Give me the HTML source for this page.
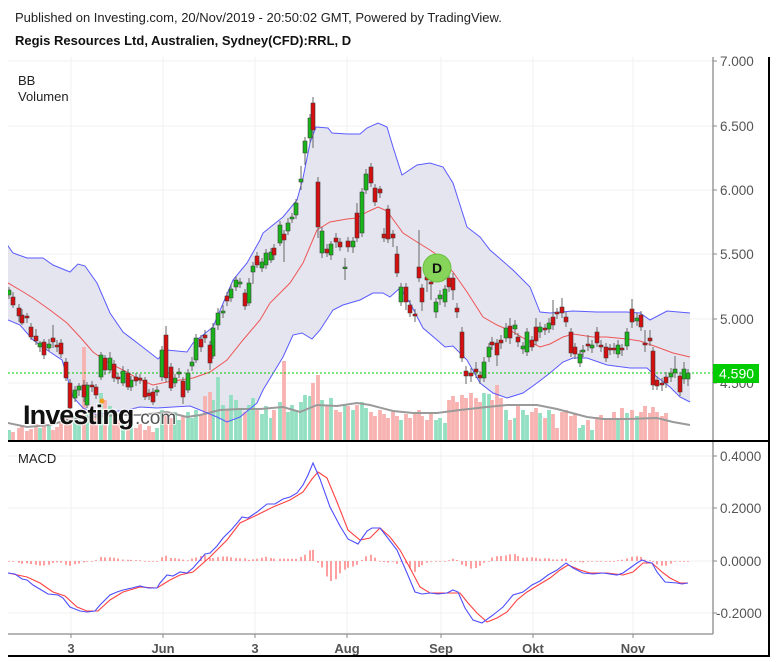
<!DOCTYPE html>
<html><head><meta charset="utf-8">
<style>
html,body{margin:0;padding:0;background:#fff;}
svg{display:block;}
text{font-family:"Liberation Sans",Arial,sans-serif;}
</style></head><body>
<svg width="777" height="662" viewBox="0 0 777 662" xmlns="http://www.w3.org/2000/svg">
<defs>
<clipPath id="cm"><rect x="8" y="57" width="705" height="383"/></clipPath>
<clipPath id="cd"><rect x="8" y="442" width="705" height="192"/></clipPath>
</defs>
<rect width="777" height="662" fill="#fff"/>
<g stroke="#f0f0f0" stroke-width="1">
<line x1="8" y1="61" x2="713" y2="61"/><line x1="8" y1="126" x2="713" y2="126"/>
<line x1="8" y1="190" x2="713" y2="190"/><line x1="8" y1="254" x2="713" y2="254"/>
<line x1="8" y1="319" x2="713" y2="319"/><line x1="8" y1="383" x2="713" y2="383"/>
<line x1="71" y1="57" x2="71" y2="440"/><line x1="163" y1="57" x2="163" y2="440"/>
<line x1="255" y1="57" x2="255" y2="440"/><line x1="347" y1="57" x2="347" y2="440"/>
<line x1="441" y1="57" x2="441" y2="440"/><line x1="533" y1="57" x2="533" y2="440"/>
<line x1="633" y1="57" x2="633" y2="440"/>
<line x1="8" y1="456" x2="713" y2="456"/><line x1="8" y1="508" x2="713" y2="508"/>
<line x1="8" y1="561" x2="713" y2="561"/><line x1="8" y1="613" x2="713" y2="613"/>
<line x1="71" y1="443" x2="71" y2="634"/><line x1="163" y1="443" x2="163" y2="634"/>
<line x1="255" y1="443" x2="255" y2="634"/><line x1="347" y1="443" x2="347" y2="634"/>
<line x1="441" y1="443" x2="441" y2="634"/><line x1="533" y1="443" x2="533" y2="634"/>
<line x1="633" y1="443" x2="633" y2="634"/>
</g>

<g clip-path="url(#cm)">
<!-- BB fill -->
<polygon fill="#e5e5f0" points="6,244 8,246 13,253 27,258 43,258 53,265 70,272 78,264 85,266 97,283 110,313 123,332 140,345 158,359 167,350 187,352 193,343 213,327 233,280 247,263 260,240 263,233 283,217 297,200 303,178 310,143 316,127 328,128 332,133 347,134 360,134 367,128 378,123 387,127 393,147 402,175 417,165 430,163 443,167 453,183 467,227 480,237 490,250 513,270 530,287 540,312 550,313 573,311 597,312 627,312 640,313 650,320 667,311 690,313 690,402 680,397 670,387 657,377 647,368 630,368 607,365 587,358 573,358 563,362 550,373 537,383 523,393 507,398 493,393 480,383 467,360 453,346 445,347 437,340 423,328 410,303 400,288 390,297 383,293 373,293 360,300 343,305 333,310 320,330 312,339 302,333 293,335 283,357 263,390 257,403 240,417 227,422 217,417 200,410 190,406 173,407 157,408 140,407 127,410 110,412 97,415 83,408 73,397 68,380 62,360 50,352 33,340 20,325 8,320 6,319"/>
<!-- volume green -->
<path fill="#93dfc2" d="M7.1 430h3.8V441h-3.8zM38.1 428h3.8V441h-3.8zM47.1 426h3.8V441h-3.8zM73.1 416h3.8V441h-3.8zM77.1 420h3.8V441h-3.8zM85.1 412h3.8V441h-3.8zM99.1 393h3.8V441h-3.8zM108.1 406h3.8V441h-3.8zM121.1 421h3.8V441h-3.8zM129.1 420h3.8V441h-3.8zM155.1 428h3.8V441h-3.8zM160.1 410h3.8V441h-3.8zM173.1 412h3.8V441h-3.8zM177.1 420h3.8V441h-3.8zM186.1 412h3.8V441h-3.8zM190.1 418h3.8V441h-3.8zM194.1 410h3.8V441h-3.8zM211.1 400h3.8V441h-3.8zM216.1 377h3.8V441h-3.8zM221.1 405h3.8V441h-3.8zM229.1 395h3.8V441h-3.8zM234.1 400h3.8V441h-3.8zM238.1 408h3.8V441h-3.8zM247.1 405h3.8V441h-3.8zM251.1 398h3.8V441h-3.8zM260.1 414h3.8V441h-3.8zM264.1 406h3.8V441h-3.8zM269.1 418h3.8V441h-3.8zM278.1 402h3.8V441h-3.8zM286.1 412h3.8V441h-3.8zM290.1 405h3.8V441h-3.8zM294.1 410h3.8V441h-3.8zM299.1 402h3.8V441h-3.8zM303.1 395h3.8V441h-3.8zM308.1 396h3.8V441h-3.8zM320.1 400h3.8V441h-3.8zM329.1 398h3.8V441h-3.8zM343.1 404h3.8V441h-3.8zM351.1 410h3.8V441h-3.8zM360.1 402h3.8V441h-3.8zM364.1 408h3.8V441h-3.8zM399.1 420h3.8V441h-3.8zM434.1 420h3.8V441h-3.8zM438.1 418h3.8V441h-3.8zM443.1 423h3.8V441h-3.8zM482.1 393h3.8V441h-3.8zM487.1 394h3.8V441h-3.8zM504.1 410h3.8V441h-3.8zM513.1 418h3.8V441h-3.8zM521.1 410h3.8V441h-3.8zM525.1 415h3.8V441h-3.8zM538.1 413h3.8V441h-3.8zM547.1 410h3.8V441h-3.8zM578.1 428h3.8V441h-3.8zM581.1 425h3.8V441h-3.8zM590.1 430h3.8V441h-3.8zM616.1 420h3.8V441h-3.8zM625.1 413h3.8V441h-3.8zM635.1 416h3.8V441h-3.8z"/>
<!-- volume red -->
<path fill="#f8b3b0" d="M11.1 432h3.8V441h-3.8zM17.1 428h3.8V441h-3.8zM20.1 425h3.8V441h-3.8zM25.1 431h3.8V441h-3.8zM29.1 429h3.8V441h-3.8zM34.1 424h3.8V441h-3.8zM42.1 422h3.8V441h-3.8zM51.1 430h3.8V441h-3.8zM55.1 427h3.8V441h-3.8zM59.1 423h3.8V441h-3.8zM64.1 418h3.8V441h-3.8zM68.1 412h3.8V441h-3.8zM82.1 347h3.8V441h-3.8zM90.1 405h3.8V441h-3.8zM94.1 410h3.8V441h-3.8zM103.1 400h3.8V441h-3.8zM112.1 412h3.8V441h-3.8zM116.1 418h3.8V441h-3.8zM126.1 425h3.8V441h-3.8zM134.1 428h3.8V441h-3.8zM138.1 424h3.8V441h-3.8zM143.1 430h3.8V441h-3.8zM147.1 426h3.8V441h-3.8zM151.1 432h3.8V441h-3.8zM164.1 414h3.8V441h-3.8zM169.1 418h3.8V441h-3.8zM181.1 416h3.8V441h-3.8zM199.1 414h3.8V441h-3.8zM203.1 396h3.8V441h-3.8zM208.1 392h3.8V441h-3.8zM225.1 410h3.8V441h-3.8zM243.1 412h3.8V441h-3.8zM255.1 410h3.8V441h-3.8zM272.1 410h3.8V441h-3.8zM282.1 361h3.8V441h-3.8zM311.1 383h3.8V441h-3.8zM316.1 375h3.8V441h-3.8zM325.1 405h3.8V441h-3.8zM334.1 410h3.8V441h-3.8zM338.1 412h3.8V441h-3.8zM346.1 406h3.8V441h-3.8zM355.1 405h3.8V441h-3.8zM369.1 412h3.8V441h-3.8zM373.1 416h3.8V441h-3.8zM378.1 410h3.8V441h-3.8zM382.1 414h3.8V441h-3.8zM386.1 418h3.8V441h-3.8zM391.1 412h3.8V441h-3.8zM395.1 416h3.8V441h-3.8zM404.1 414h3.8V441h-3.8zM408.1 418h3.8V441h-3.8zM413.1 412h3.8V441h-3.8zM417.1 410h3.8V441h-3.8zM420.1 416h3.8V441h-3.8zM425.1 420h3.8V441h-3.8zM429.1 414h3.8V441h-3.8zM447.1 400h3.8V441h-3.8zM451.1 396h3.8V441h-3.8zM455.1 402h3.8V441h-3.8zM460.1 395h3.8V441h-3.8zM464.1 398h3.8V441h-3.8zM469.1 393h3.8V441h-3.8zM474.1 398h3.8V441h-3.8zM478.1 402h3.8V441h-3.8zM490.1 400h3.8V441h-3.8zM495.1 385h3.8V441h-3.8zM499.1 398h3.8V441h-3.8zM508.1 420h3.8V441h-3.8zM516.1 405h3.8V441h-3.8zM530.1 412h3.8V441h-3.8zM534.1 408h3.8V441h-3.8zM543.1 418h3.8V441h-3.8zM551.1 414h3.8V441h-3.8zM555.1 428h3.8V441h-3.8zM560.1 412h3.8V441h-3.8zM564.1 410h3.8V441h-3.8zM569.1 416h3.8V441h-3.8zM573.1 413h3.8V441h-3.8zM586.1 420h3.8V441h-3.8zM595.1 417h3.8V441h-3.8zM599.1 415h3.8V441h-3.8zM604.1 420h3.8V441h-3.8zM608.1 418h3.8V441h-3.8zM612.1 412h3.8V441h-3.8zM620.1 408h3.8V441h-3.8zM630.1 410h3.8V441h-3.8zM639.1 412h3.8V441h-3.8zM643.1 406h3.8V441h-3.8zM648.1 413h3.8V441h-3.8zM651.1 407h3.8V441h-3.8zM655.1 412h3.8V441h-3.8zM660.1 416h3.8V441h-3.8zM664.1 413h3.8V441h-3.8z"/>
<!-- volume MA -->
<polyline fill="none" stroke="#9a9a9a" stroke-width="2" points="6,423 8,423 27,427 50,425 67,420 93,417 117,415 140,415 167,412 187,417 200,415 220,410 240,409 260,409 283,407 300,412 317,405 337,406 357,403 370,405 393,411 413,413 437,413 460,410 487,407 507,405 537,405 557,409 587,417 603,419 627,419 657,418 673,422 690,425"/>
<!-- bands -->
<polyline fill="none" stroke="#5a5aff" stroke-width="1" points="6,244 8,246 13,253 27,258 43,258 53,265 70,272 78,264 85,266 97,283 110,313 123,332 140,345 158,359 167,350 187,352 193,343 213,327 233,280 247,263 260,240 263,233 283,217 297,200 303,178 310,143 316,127 328,128 332,133 347,134 360,134 367,128 378,123 387,127 393,147 402,175 417,165 430,163 443,167 453,183 467,227 480,237 490,250 513,270 530,287 540,312 550,313 573,311 597,312 627,312 640,313 650,320 667,311 690,313"/>
<polyline fill="none" stroke="#5a5aff" stroke-width="1" points="6,319 8,320 20,325 33,340 50,352 62,360 68,380 73,397 83,408 97,415 110,412 127,410 140,407 157,408 173,407 190,406 200,410 217,417 227,422 240,417 257,403 263,390 283,357 293,335 302,333 312,339 320,330 333,310 343,305 360,300 373,293 383,293 390,297 400,288 410,303 423,328 437,340 445,347 453,346 467,360 480,383 493,393 507,398 523,393 537,383 550,373 563,362 573,358 587,358 607,365 630,368 647,368 657,377 670,387 680,397 690,402"/>
<polyline fill="none" stroke="#ee5555" stroke-width="1" points="6,282 8,283 20,290 33,298 50,310 67,323 80,337 93,352 107,362 127,372 140,380 153,385 167,382 180,380 193,378 210,372 227,360 243,340 260,320 270,303 290,283 303,263 317,230 330,222 347,219 357,218 367,212 378,207 387,211 403,233 417,242 430,250 440,257 453,272 467,292 483,317 497,325 513,332 530,342 540,347 550,344 563,337 573,334 593,337 607,337 627,339 640,341 657,347 673,353 690,357"/>
<line x1="8" y1="373" x2="713" y2="373" stroke="#00c800" stroke-width="1" stroke-dasharray="2,2"/>
<!-- wicks -->
<path fill="none" stroke="#666" stroke-width="1" d="M9 287V299M13 292V308M19 304V322M22 309V325M27 313V323M31 323V340M36 329V345M40 341V352M44 339V359M49 339V351M53 325V348M57 340V352M61 339V358M66 358V381M70 379V412M75 386V402M79 383V396M84 380V402M87 382V408M92 381V392M96 384V399M101 352V380M105 355V375M110 352V373M114 360V382M118 373V384M123 366V386M128 369V390M131 376V391M136 373V386M140 374V384M145 377V400M149 389V400M153 388V405M157 386V396M162 346V381M166 326V382M171 363V391M175 374V387M179 368V378M183 377V404M188 369V393M192 357V371M196 334V363M201 335V352M205 330V343M210 341V370M213 323V359M218 308V330M223 305V318M227 292V306M231 284V302M236 276V291M240 278V288M245 289V310M249 278V306M253 262V284M257 252V268M262 258V272M266 249V269M271 248V263M274 244V260M280 221V246M284 230V262M288 218V235M292 213V223M296 199V219M301 166V190M305 137V165M310 114V143M313 97V148M318 177V238M322 227V258M327 244V257M331 241V260M336 233V248M340 238V251M345 258V280M348 237V252M353 237V253M357 203V242M362 188V237M366 169V194M371 163V187M375 184V206M380 186V198M384 228V242M388 205V243M393 230V247M397 246V277M401 283V306M406 283V310M410 300V317M415 309V322M419 230V282M422 284V311M427 262V292M431 276V300M436 298V318M440 290V305M445 285V307M449 274V292M453 273V300M457 303V318M462 327V362M466 366V384M471 368V382M476 362V378M480 371V384M484 357V382M489 343V362M492 337V350M497 339V366M501 335V349M506 323V342M510 318V344M515 320V335M518 333V347M523 342V354M527 328V356M532 336V351M536 318V345M540 322V338M545 324V335M549 318V333M553 300V330M557 308V319M562 298V318M566 312V327M571 328V357M575 343V359M580 350V367M583 345V357M588 335V351M592 340V353M597 327V347M601 340V352M606 343V362M610 344V355M614 343V354M618 340V358M622 344V356M627 328V350M632 299V328M637 313V326M641 311V331M645 330V352M650 330V346M653 347V390M657 376V390M662 378V391M666 372V388M671 368V382M675 356V378M680 372V396M684 362V384M688 369V386"/>
<!-- green bodies -->
<path fill="#19b419" stroke="#3a3a3a" stroke-width="0.6" d="M7 290h4v5h-4zM38 343h4v4h-4zM47 344h4v4h-4zM73 390h4v8h-4zM77 386h4v4h-4zM85 385h4v20h-4zM99 355h4v22h-4zM108 358h4v12h-4zM121 371h4v12h-4zM129 380h4v7h-4zM155 390h4v2h-4zM160 350h4v27h-4zM173 378h4v5h-4zM177 372h4v2h-4zM186 373h4v17h-4zM190 362h4v4h-4zM194 338h4v22h-4zM211 328h4v28h-4zM216 313h4v12h-4zM221 311h4v2h-4zM229 289h4v9h-4zM234 280h4v7h-4zM238 282h4v2h-4zM247 283h4v20h-4zM251 266h4v6h-4zM260 262h4v6h-4zM264 253h4v12h-4zM269 252h4v8h-4zM278 225h4v18h-4zM286 223h4v8h-4zM290 217h4v2h-4zM294 203h4v12h-4zM299 179h4v3h-4zM303 141h4v12h-4zM308 118h4v20h-4zM320 231h4v22h-4zM329 244h4v11h-4zM343 267h4v1.6h-4zM351 241h4v6h-4zM360 192h4v41h-4zM364 174h4v16h-4zM399 287h4v15h-4zM434 302h4v10h-4zM438 295h4v4h-4zM443 289h4v13h-4zM482 362h4v16h-4zM487 347h4v10h-4zM504 328h4v10h-4zM513 325h4v4h-4zM521 346h4v3h-4zM525 332h4v20h-4zM538 327h4v5h-4zM547 323h4v6h-4zM578 354h4v9h-4zM581 350h4v2h-4zM590 345h4v3h-4zM616 345h4v9h-4zM625 332h4v14h-4zM635 318h4v3h-4zM669 373h4v4h-4zM673 369h4v4h-4zM682 369h4v10h-4zM686 373h4v6h-4z"/>
<!-- red bodies -->
<path fill="#d50f0f" stroke="#3a3a3a" stroke-width="0.6" d="M11 297h4v8h-4zM17 308h4v8h-4zM20 315h4v8h-4zM25 316h4v2h-4zM29 327h4v10h-4zM34 336h4v5h-4zM42 342h4v13h-4zM51 338h4v4h-4zM55 345h4v2h-4zM59 343h4v11h-4zM64 362h4v16h-4zM68 383h4v25h-4zM82 385h4v12h-4zM90 385h4v2h-4zM94 387h4v8h-4zM103 358h4v12h-4zM112 364h4v14h-4zM116 377h4v2h-4zM126 373h4v14h-4zM134 377h4v4h-4zM138 378h4v2h-4zM143 380h4v17h-4zM147 393h4v3h-4zM151 392h4v10h-4zM164 335h4v43h-4zM169 367h4v21h-4zM181 381h4v16h-4zM199 339h4v8h-4zM203 335h4v3h-4zM208 345h4v18h-4zM225 296h4v5h-4zM243 293h4v13h-4zM255 256h4v9h-4zM272 248h4v7h-4zM282 234h4v6h-4zM311 103h4v27h-4zM316 182h4v45h-4zM325 249h4v4h-4zM334 238h4v4h-4zM338 242h4v5h-4zM346 241h4v6h-4zM355 213h4v25h-4zM369 167h4v16h-4zM373 188h4v14h-4zM378 189h4v4h-4zM382 234h4v4h-4zM386 209h4v30h-4zM391 234h4v4h-4zM395 254h4v19h-4zM404 287h4v15h-4zM408 305h4v8h-4zM413 314h4v2h-4zM417 267h4v11h-4zM420 288h4v14h-4zM425 277h4v3h-4zM429 282h4v2h-4zM447 278h4v9h-4zM451 278h4v12h-4zM455 308h4v4h-4zM460 332h4v26h-4zM464 371h4v5h-4zM469 373h4v3h-4zM474 369h4v3h-4zM478 375h4v3h-4zM490 342h4v3h-4zM495 343h4v12h-4zM499 340h4v3h-4zM508 326h4v12h-4zM516 337h4v5h-4zM530 340h4v7h-4zM534 327h4v14h-4zM543 328h4v2h-4zM551 317h4v8h-4zM555 312h4v2h-4zM560 307h4v6h-4zM564 317h4v5h-4zM569 332h4v21h-4zM573 347h4v7h-4zM586 344h4v2h-4zM595 332h4v11h-4zM599 345h4v2h-4zM604 347h4v11h-4zM608 348h4v2h-4zM612 348h4v2h-4zM620 348h4v2h-4zM630 309h4v13h-4zM639 315h4v12h-4zM643 343h4v2h-4zM648 338h4v3h-4zM651 351h4v34h-4zM655 380h4v6h-4zM660 383h4v2h-4zM664 377h4v6h-4zM678 376h4v16h-4z"/>
</g>

<g>
<text x="23" y="424" font-size="27" font-weight="bold" letter-spacing="-0.9" fill="#111" stroke="#fff" stroke-width="2.5" paint-order="stroke" stroke-opacity="0.8">Investing</text>
<text x="135" y="424" font-size="19" fill="#555" stroke="#fff" stroke-width="2" paint-order="stroke" stroke-opacity="0.7">.com</text>
<circle cx="102" cy="401" r="2.6" fill="#f0a020"/>
</g>
<circle cx="437" cy="268" r="14" fill="#86d45a" stroke="#6cc040" stroke-width="1"/>
<text x="437" y="273" font-size="14" font-weight="bold" fill="#111" text-anchor="middle">D</text>

<g clip-path="url(#cd)">
<path fill="none" stroke="#ff6060" stroke-width="1.2" d="M9 561V561.7M13 561V561.7M19 561V562.7M22 561V563.7M27 561V563.3M31 561V564.1M36 561V564.9M40 561V565.6M44 561V565.4M49 561V564.7M53 561V562.9M57 561V562.2M61 561V562.6M66 561V564.8M70 561V565.7M75 561V564.2M79 561V563.5M84 561V562.4M87 561V561.8M92 561V561.7M96 561V560.1M101 561V557M105 561V557.4M110 561V557.2M114 561V557.8M118 561V558.5M123 561V559.5M128 561V559.8M131 561V559.9M136 561V560.1M140 561V560.2M145 561V561.7M149 561V561.7M153 561V561.7M157 561V561.7M162 561V557.4M166 561V555.8M171 561V558M175 561V558.3M179 561V558.8M183 561V559.6M188 561V560.3M192 561V558.5M196 561V557.5M201 561V556M205 561V555.1M210 561V558M213 561V558M218 561V557.1M223 561V556.5M227 561V556.5M231 561V557.4M236 561V558.1M240 561V558.4M245 561V558.3M249 561V559.9M253 561V559.3M257 561V558.7M262 561V557.7M266 561V556.8M271 561V558M274 561V558.6M280 561V558.7M284 561V558.5M288 561V558.7M292 561V558.8M296 561V558.9M301 561V556.9M305 561V554.7M310 561V550.4M313 561V549.9M318 561V562.8M322 561V567.5M327 561V576.5M331 561V581M336 561V579.3M340 561V573.3M345 561V569.8M348 561V567.8M353 561V566.5M357 561V564.9M362 561V560M366 561V556.2M371 561V554.8M375 561V557.6M380 561V561.7M384 561V562.1M388 561V562.6M393 561V561.7M397 561V563.9M401 561V561.7M406 561V563.3M410 561V568.8M415 561V571.9M419 561V567M422 561V565.3M427 561V562.6M431 561V561.7M436 561V561.7M440 561V561.7M445 561V561.7M449 561V560.3M453 561V558.7M457 561V560M462 561V564.7M466 561V566.3M471 561V568.6M476 561V568M480 561V565.9M484 561V562.7M489 561V561.7M492 561V557.5M497 561V556.3M501 561V556M506 561V555.5M510 561V554.3M515 561V554.1M518 561V556M523 561V557.7M527 561V557.5M532 561V557.4M536 561V557.7M540 561V558.7M545 561V558.2M549 561V558.5M553 561V559.4M557 561V559.5M562 561V559M566 561V558.5M571 561V561.7M575 561V561.8M580 561V562.1M583 561V562.4M588 561V561.8M592 561V561.7M597 561V561.7M601 561V561.7M606 561V561.7M610 561V561.7M614 561V561.7M618 561V560.3M622 561V559.7M627 561V558.4M632 561V556.7M637 561V556.3M641 561V556.9M645 561V559.6M650 561V560.3M653 561V561.7M657 561V564.5M662 561V565.7M666 561V565.8M671 561V563.6M675 561V561.7M680 561V561.7M684 561V561.7M688 561V561.7"/>
<polyline fill="none" stroke="#ff4040" stroke-width="1.1" points="6,573 8,573 27,577 40,583 53,592 65,596 77,607 87,611 98,611 110,600 123,592 140,587 157,588 170,580 180,575 193,572 210,557 227,540 240,523 257,515 273,507 290,500 303,492 312,479 318,472 327,478 337,502 348,530 360,540 370,538 380,528 390,537 400,550 410,568 420,587 430,593 450,593 460,593 468,603 477,613 487,622 497,618 507,612 517,600 527,592 540,584 550,578 560,570 568,565 580,570 590,573 607,573 623,575 633,572 643,563 652,563 662,572 670,578 680,583 688,583"/>
<polyline fill="none" stroke="#4d4dff" stroke-width="1.1" points="6,573 8,573 15,574 22,579 27,580 33,585 48,594 58,595 63,598 70,607 80,611 87,612 95,611 100,605 110,595 117,592 123,590 132,588 140,586 148,588 157,588 160,583 167,575 173,576 180,572 187,573 193,568 200,560 205,554 210,553 217,546 223,538 232,529 238,522 242,517 248,518 257,512 267,504 275,504 283,499 290,497 297,493 303,485 308,475 313,463 320,479 330,507 340,526 348,539 358,544 367,531 372,528 380,528 387,537 397,550 407,573 415,592 422,594 430,593 438,594 447,593 453,590 458,592 465,608 473,620 482,623 493,615 503,607 513,595 523,592 532,585 540,581 548,575 557,570 566,563 573,568 583,573 593,574 603,573 617,575 623,573 630,568 637,563 642,560 647,562 652,563 657,572 665,582 677,583 682,584 688,583"/>
</g>

<!-- axes -->
<line x1="713" y1="57" x2="713" y2="634" stroke="#8a8a8a" stroke-width="1.3"/>
<line x1="8" y1="634" x2="713" y2="634" stroke="#8a8a8a" stroke-width="1.3"/>
<g stroke="#8a8a8a" stroke-width="1">
<line x1="713" y1="61" x2="717" y2="61"/><line x1="713" y1="126" x2="717" y2="126"/>
<line x1="713" y1="190" x2="717" y2="190"/><line x1="713" y1="254" x2="717" y2="254"/>
<line x1="713" y1="319" x2="717" y2="319"/><line x1="713" y1="383" x2="717" y2="383"/>
<line x1="713" y1="456" x2="717" y2="456"/><line x1="713" y1="508" x2="717" y2="508"/>
<line x1="713" y1="561" x2="717" y2="561"/><line x1="713" y1="613" x2="717" y2="613"/>
<line x1="71" y1="634" x2="71" y2="638"/><line x1="163" y1="634" x2="163" y2="638"/>
<line x1="255" y1="634" x2="255" y2="638"/><line x1="347" y1="634" x2="347" y2="638"/>
<line x1="441" y1="634" x2="441" y2="638"/><line x1="533" y1="634" x2="533" y2="638"/>
<line x1="633" y1="634" x2="633" y2="638"/>
</g>
<g font-size="13.5" fill="#555">
<text x="720" y="66">7.000</text>
<text x="720" y="131">6.500</text>
<text x="720" y="195">6.000</text>
<text x="720" y="259">5.500</text>
<text x="720" y="324">5.000</text>
<text x="720" y="388">4.500</text>
<text x="720" y="461">0.4000</text>
<text x="720" y="513">0.2000</text>
<text x="720" y="566">0.0000</text>
<text x="716" y="618">-0.2000</text>
</g>
<rect x="713" y="364" width="46" height="19" fill="#00cc00"/>
<text x="719" y="378.5" font-size="14" fill="#fff">4.590</text>
<g font-size="13" font-weight="bold" fill="#555" text-anchor="middle">
<text x="71" y="653">3</text>
<text x="163" y="653">Jun</text>
<text x="255" y="653">3</text>
<text x="347" y="653">Aug</text>
<text x="441" y="653">Sep</text>
<text x="533" y="653">Okt</text>
<text x="633" y="653">Nov</text>
</g>
<line x1="769" y1="57" x2="769" y2="657" stroke="#000" stroke-width="2"/>
<line x1="8" y1="441" x2="770" y2="441" stroke="#000" stroke-width="2"/>
<line x1="8" y1="656" x2="770" y2="656" stroke="#000" stroke-width="2"/>
<text x="15" y="22" font-size="13" fill="#222">Published on Investing.com, 20/Nov/2019 - 20:50:02 GMT, Powered by TradingView.</text>
<text x="15" y="45" font-size="13" font-weight="bold" fill="#111">Regis Resources Ltd, Australien, Sydney(CFD):RRL, D</text>
<text x="18" y="85" font-size="13" fill="#222">BB</text>
<text x="18" y="101" font-size="13" fill="#222">Volumen</text>
<text x="18" y="463" font-size="13" fill="#222">MACD</text>
</svg>
</body></html>
